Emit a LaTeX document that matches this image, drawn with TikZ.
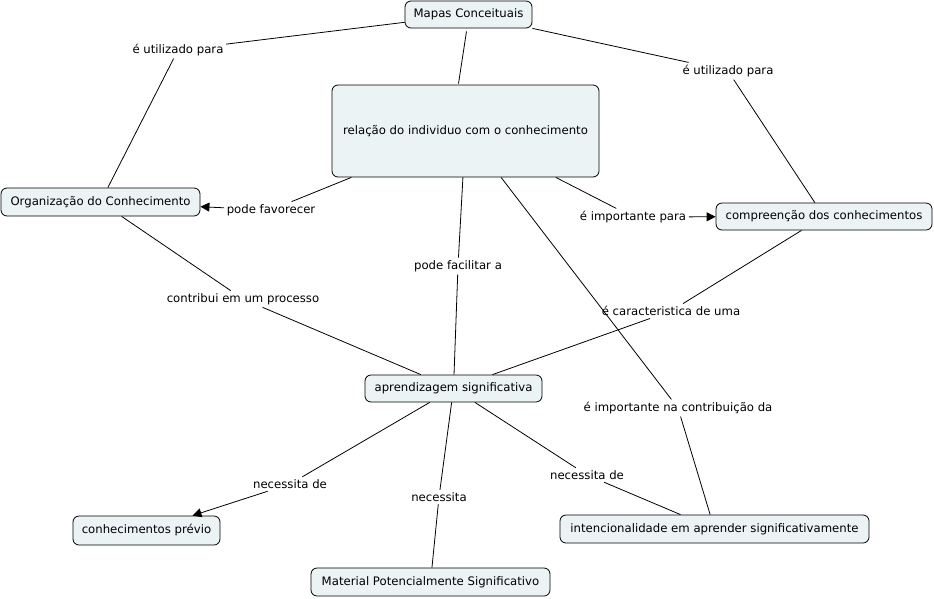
\documentclass[tikz,border=0pt]{standalone}
\usepackage{fontspec}
\setmainfont{DejaVu Sans}
\usetikzlibrary{arrows.meta}
\definecolor{cfill}{RGB}{236,243,245}
\tikzset{
  concept/.style={draw=black, line width=0.8pt, fill=cfill, rounded corners=6pt, inner sep=0pt, font=\fontsize{11.7}{14}\selectfont},
  lab/.style={inner sep=2.5pt, font=\fontsize{11.7}{14}\selectfont},
  conn/.style={line width=0.8pt},
  arr/.style={conn, -{Triangle[length=9pt,width=9pt]}}
}
\begin{document}
\begin{tikzpicture}[x=1pt,y=-1pt]
\useasboundingbox (0,0) rectangle (934,598);
% concepts
\node[concept, minimum width=127, minimum height=27] (mapas) at (468.5,14.5) {Mapas Conceituais};
\node[concept, minimum width=267, minimum height=92] (rel) at (465.5,131) {relação do individuo com o conhecimento};
\node[concept, minimum width=199, minimum height=28] (org) at (100.5,202) {Organização do Conhecimento};
\node[concept, minimum width=216, minimum height=27] (comp) at (824,216.5) {compreenção dos conhecimentos};
\node[concept, minimum width=177, minimum height=27] (apr) at (453.5,388.5) {aprendizagem significativa};
\node[concept, minimum width=147, minimum height=29] (prev) at (146.5,530.5) {conhecimentos prévio};
\node[concept, minimum width=239, minimum height=28] (mat) at (430.5,582) {Material Potencialmente Significativo};
\node[concept, minimum width=309, minimum height=28] (int) at (714.5,529) {intencionalidade em aprender significativamente};
% link labels
\node[lab] (l1) at (178,50) {é utilizado para};
\node[lab] (l2) at (728,71) {é utilizado para};
\node[lab] (l3) at (271,210) {pode favorecer};
\node[lab] (l4) at (633,217) {é importante para};
\node[lab] (l5) at (458,266) {pode facilitar a};
\node[lab] (l6) at (243,299) {contribui em um processo};
\node[lab] (l7) at (671,311) {é caracteristica de uma};
\node[lab] (l8) at (678,408) {é importante na contribuição da};
\node[lab] (l9) at (290,484) {necessita de};
\node[lab] (l10) at (439,497) {necessita};
\node[lab] (l11) at (587,475) {necessita de};
% connectors
\draw[conn] (mapas) -- (l1);
\draw[conn] (l1) -- (org);
\draw[conn] ([xshift=-2pt,yshift=-3pt]mapas.south) -- ([xshift=-7pt,yshift=1pt]rel.north);
\draw[conn] (mapas) -- (l2);
\draw[conn] (l2) -- (comp);
\draw[conn] (rel) -- (l3);
\draw[arr] (l3) -- (org);
\draw[conn] (rel) -- (l4);
\draw[arr] (l4) -- (comp);
\draw[conn] (rel) -- (l5);
\draw[conn] (l5) -- (apr);
\draw[conn] (rel) -- (l8);
\draw[conn] (l8) -- (int);
\draw[conn] (org) -- (l6);
\draw[conn] (l6) -- (apr);
\draw[conn] (comp) -- (l7);
\draw[conn] (l7) -- (apr);
\draw[conn] (apr) -- (l9);
\draw[arr] (l9) -- (prev);
\draw[conn] (apr) -- (l10);
\draw[conn] (l10) -- (mat);
\draw[conn] (apr) -- (l11);
\draw[conn] (l11) -- (int);
\end{tikzpicture}
\end{document}
